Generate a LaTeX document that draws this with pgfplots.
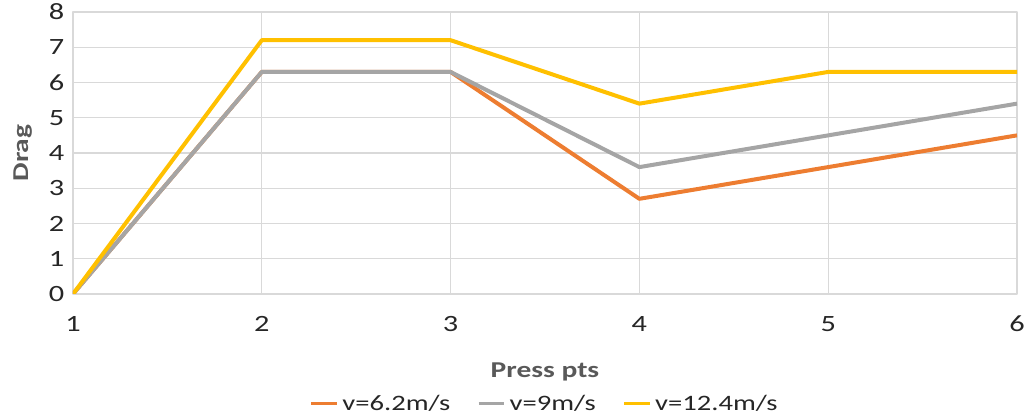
\documentclass[border=0pt]{standalone}
\usepackage{pgfplots}
\pgfplotsset{compat=1.18}
\usepackage{fontspec}
\setmainfont{Carlito}[FakeStretch=1.3]
\definecolor{cOrange}{HTML}{ED7D31}
\definecolor{cGray}{HTML}{A5A5A5}
\definecolor{cYellow}{HTML}{FFC000}
\definecolor{cGrid}{HTML}{D9D9D9}
\definecolor{cTitle}{HTML}{595959}
\begin{document}
\begin{tikzpicture}
\begin{axis}[
  scale only axis,
  width=708pt, height=211.5pt,
  at={(0pt,0pt)}, anchor=south west,
  xmin=1, xmax=6, ymin=0, ymax=8,
  xtick={1,2,3,4,5,6}, ytick={0,1,...,8},
  grid=major,
  major grid style={cGrid, line width=0.8pt},
  axis line style={cGrid, line width=0.8pt},
  tick style={draw=none},
  /pgf/number format/assume math mode=true,
  tick label style={font=\fontsize{17.5}{20}\selectfont, text=black!85},
  xticklabel style={yshift=-13pt},
  yticklabel style={xshift=-3pt},
  xlabel={Press pts},
  ylabel={Drag},
  label style={font=\fontsize{17}{20}\selectfont\bfseries, text=cTitle},
  xlabel style={at={(axis description cs:0.5,-0.277)}, anchor=center},
  ylabel style={at={(axis description cs:-0.053,0.5)}, anchor=center, rotate=0},
  legend columns=3,
  legend style={at={(axis description cs:0.5,-0.388)}, anchor=center, draw=none,
    font=\fontsize{16.5}{19}\selectfont, text=black!85,
    inner sep=0pt,
    /tikz/every odd column/.append style={column sep=1pt},
    /tikz/every even column/.append style={column sep=18pt}},
  legend image code/.code={\draw[#1, line width=2.5pt] (0pt,0pt) -- (19pt,0pt);},
  line join=round,
]
\addplot[cOrange, line width=3pt] coordinates {(1,0) (2,6.3) (3,6.3) (4,2.7) (5,3.6) (6,4.5)};
\addlegendentry{v=6.2m/s}
\addplot[cGray, line width=3pt] coordinates {(1,0) (2,6.3) (3,6.3) (4,3.6) (5,4.5) (6,5.4)};
\addlegendentry{v=9m/s}
\addplot[cYellow, line width=3pt] coordinates {(1,0) (2,7.2) (3,7.2) (4,5.4) (5,6.3) (6,6.3)};
\addlegendentry{v=12.4m/s}
\end{axis}
\pgfresetboundingbox
\path (-54.75pt,-91.5pt) rectangle (716.25pt,220.5pt);
\end{tikzpicture}
\end{document}
